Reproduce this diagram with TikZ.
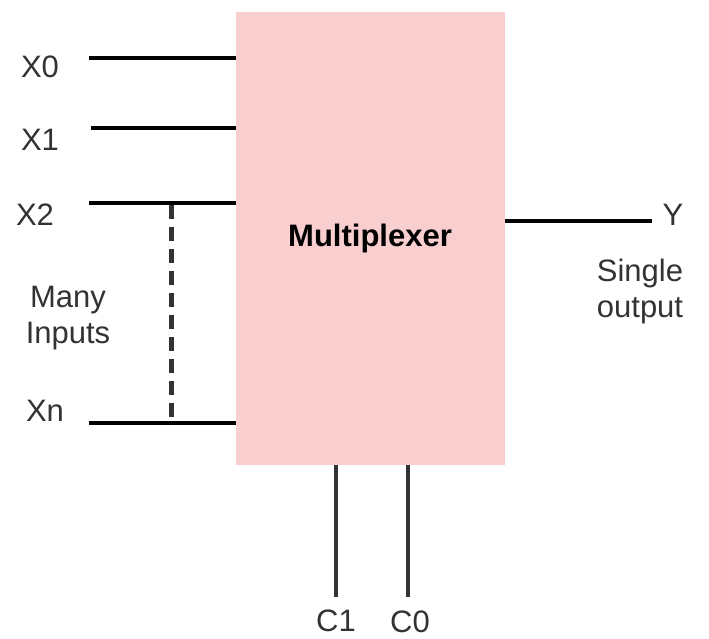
\documentclass[tikz,border=0pt]{standalone}
\usepackage{fontspec}
\setmainfont{Liberation Sans}
\definecolor{muxpink}{HTML}{F8CECE}
\definecolor{txt}{HTML}{333333}
\begin{document}
\begin{tikzpicture}[x=1pt,y=-1pt,
  lbl/.style={text=txt,font=\fontsize{31}{37}\selectfont,inner sep=0pt},
  wire/.style={line width=4pt,black},
  cwire/.style={line width=4pt,txt},
  dwire/.style={line width=5pt,txt,dash pattern=on 14pt off 8pt}]
\useasboundingbox (0,0) rectangle (709,639);
\fill[white] (0,0) rectangle (709,639);
\node[fill=muxpink,draw=none,minimum width=269pt,minimum height=453pt,anchor=north west,inner sep=0pt] (mux) at (236,12) {};
\node[text=black,font=\bfseries\fontsize{31}{37}\selectfont] (mt) at (370,238) {Multiplexer};
% input coordinates
\coordinate (a0) at (89,58);  \coordinate (b0) at (236,58);
\coordinate (a1) at (91,128); \coordinate (b1) at (236,128);
\coordinate (a2) at (89,203); \coordinate (b2) at (236,203);
\coordinate (an) at (89,423); \coordinate (bn) at (236,423);
\draw[wire] (a0) -- (b0);
\draw[wire] (a1) -- (b1);
\draw[wire] (a2) -- (b2);
\draw[wire] (an) -- (bn);
\coordinate (d1) at (171,205); \coordinate (d2) at (171,421);
\draw[dwire] (d1) -- (d2);
\node[lbl] (x0) at (40,67) {X0};
\node[lbl] (x1) at (40,140) {X1};
\node[lbl] (x2) at (35,215) {X2};
\node[lbl] (xn) at (45,411) {Xn};
\node[lbl,align=center] (many) at (68,318) {Many\\[-1pt]Inputs};
% output
\coordinate (y1) at (505,221); \coordinate (y2) at (652,221);
\draw[wire] (y1) -- (y2);
\node[lbl] (y) at (673,215) {Y};
\node[lbl,align=center] (so) at (640,291) {Single\\[-1pt]output};
% control
\coordinate (c1a) at (336,465); \coordinate (c1b) at (336,597);
\coordinate (c0a) at (408,465); \coordinate (c0b) at (408,597);
\draw[cwire] (c1a) -- (c1b);
\draw[cwire] (c0a) -- (c0b);
\node[lbl] (c1) at (336,621) {C1};
\node[lbl] (c0) at (410,622) {C0};
\end{tikzpicture}
\end{document}
